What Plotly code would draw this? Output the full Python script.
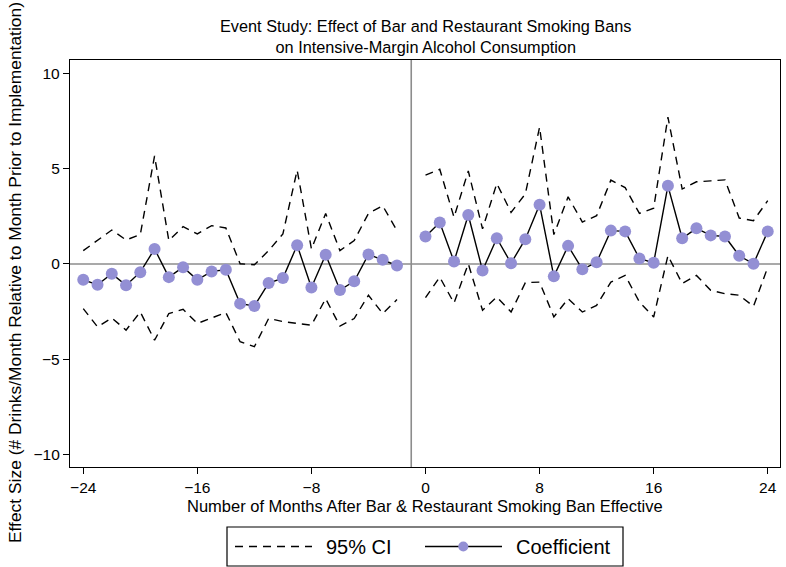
import plotly.graph_objects as go

# Event time (months relative to the ban); month -1 is the omitted reference period
months = list(range(-24, 25))

coef = [-0.83, -1.09, -0.51, -1.12, -0.43, 0.79, -0.69, -0.17, -0.83, -0.39, -0.30,
        -2.08, -2.20, -1.00, -0.74, 0.98, -1.23, 0.48, -1.37, -0.91, 0.50, 0.22, -0.08,
        None,
        1.44, 2.18, 0.13, 2.57, -0.34, 1.35, 0.04, 1.30, 3.11, -0.65, 0.95, -0.28,
        0.09, 1.75, 1.71, 0.29, 0.06, 4.10, 1.35, 1.87, 1.50, 1.44, 0.43, 0.01, 1.71]

ci_upper = [0.70, 1.23, 1.78, 1.26, 1.54, 5.67, 1.23, 1.96, 1.58, 2.01, 1.89,
            0.01, -0.04, 0.70, 1.58, 4.92, 0.79, 2.65, 0.70, 1.23, 2.65, 3.05, 1.75,
            None,
            4.66, 4.97, 2.45, 4.88, 1.84, 4.22, 2.71, 3.67, 7.18, 1.54, 3.52, 2.20,
            2.53, 4.40, 4.01, 2.65, 2.93, 7.70, 3.93, 4.31, 4.36, 4.41, 2.41, 2.27, 3.32]

ci_lower = [-2.34, -3.30, -2.83, -3.47, -2.52, -4.00, -2.60, -2.38, -3.12, -2.83, -2.55,
            -4.08, -4.34, -2.86, -3.02, -3.12, -3.21, -1.82, -3.26, -2.86, -1.64, -2.60, -1.87,
            None,
            -1.77, -0.69, -2.05, 0.01, -2.43, -1.73, -2.52, -0.98, -0.95, -2.78, -1.82, -2.52,
            -2.17, -0.95, -0.60, -1.99, -2.78, 0.44, -1.03, -0.60, -1.38, -1.56, -1.64, -2.22, -0.17]

x_ticks = [-24, -16, -8, 0, 8, 16, 24]
y_ticks = [-10, -5, 0, 5, 10]
ref_month = -1

MARKER_COLOR = "#938fd4"
GRID_GRAY = "#8c8c8c"
FONT = "Liberation Sans, Arial, sans-serif"

W, H = 786, 567
L, R, T, B = 70, 6, 60, 100
PW, PH = W - L - R, H - T - B


def px_x(p):
    return (p - L) / PW


def px_y(p):
    return (H - B - p) / PH


fig = go.Figure()

fig.add_trace(go.Scatter(x=months, y=ci_upper, mode="lines", name="95% CI",
                         line=dict(color="black", width=1.4, dash="8px,6px"),
                         connectgaps=False, showlegend=False))
fig.add_trace(go.Scatter(x=months, y=ci_lower, mode="lines", name="95% CI",
                         line=dict(color="black", width=1.4, dash="8px,6px"),
                         connectgaps=False, showlegend=False))
fig.add_trace(go.Scatter(x=months, y=coef, mode="lines+markers", name="Coefficient",
                         line=dict(color="black", width=1.4),
                         marker=dict(color=MARKER_COLOR, size=12),
                         connectgaps=False, showlegend=False))

shapes = [
    # zero line and reference-month line
    dict(type="line", xref="paper", yref="y", x0=0, x1=1, y0=0, y1=0,
         line=dict(color=GRID_GRAY, width=1.6), layer="below"),
    dict(type="line", xref="x", yref="paper", x0=ref_month, x1=ref_month, y0=0, y1=1,
         line=dict(color=GRID_GRAY, width=1.6), layer="below"),
    # legend box
    dict(type="rect", xref="paper", yref="paper",
         x0=px_x(227), x1=px_x(623), y0=px_y(527), y1=px_y(566),
         line=dict(color="black", width=1.2)),
    dict(type="line", xref="paper", yref="paper",
         x0=px_x(235), x1=px_x(312), y0=px_y(546.5), y1=px_y(546.5),
         line=dict(color="black", width=1.4, dash="8px,6px")),
    dict(type="line", xref="paper", yref="paper",
         x0=px_x(425), x1=px_x(502), y0=px_y(546.5), y1=px_y(546.5),
         line=dict(color="black", width=1.4)),
    dict(type="circle", xref="paper", yref="paper",
         x0=px_x(458.3), x1=px_x(468.3), y0=px_y(541.5), y1=px_y(551.5),
         fillcolor=MARKER_COLOR, line=dict(width=0)),
]

annotations = [
    dict(text="Event Study: Effect of Bar and Restaurant Smoking Bans<br>on Intensive-Margin Alcohol Consumption",
         xref="paper", yref="paper", x=0.5, y=px_y(36.5), xanchor="center", yanchor="middle",
         showarrow=False, font=dict(size=16.3, color="black", family=FONT)),
    dict(text="Number of Months After Bar &amp; Restaurant Smoking Ban Effective",
         xref="paper", yref="paper", x=0.5, y=px_y(506), xanchor="center", yanchor="middle",
         showarrow=False, font=dict(size=16.5, color="black", family=FONT)),
    dict(text="Effect Size (# Drinks/Month Relative to Month Prior to Implementation)",
         xref="paper", yref="paper", x=px_x(15), y=px_y(273), xanchor="center", yanchor="middle",
         textangle=-90, showarrow=False, font=dict(size=17.4, color="black", family=FONT)),
    dict(text="95% CI", xref="paper", yref="paper", x=px_x(324), y=px_y(546.5),
         xanchor="left", yanchor="middle", showarrow=False,
         font=dict(size=20, color="black", family=FONT)),
    dict(text="Coefficient", xref="paper", yref="paper", x=px_x(514), y=px_y(546.5),
         xanchor="left", yanchor="middle", showarrow=False,
         font=dict(size=20, color="black", family=FONT)),
]

fig.update_layout(
    width=W, height=H,
    margin=dict(l=L, r=R, t=T, b=B),
    paper_bgcolor="white", plot_bgcolor="white",
    font=dict(family=FONT, color="black", size=15),
    showlegend=False,
    shapes=shapes,
    annotations=annotations,
    xaxis=dict(range=[-24.93, 24.86], tickvals=x_ticks, ticks="outside", ticklen=6,
               tickwidth=1.2, tickcolor="black", showgrid=False, zeroline=False,
               showline=True, linecolor="black", linewidth=1.3, mirror=True,
               tickfont=dict(size=15.5)),
    yaxis=dict(range=[-10.65, 10.7], tickvals=y_ticks, ticks="outside", ticklen=6,
               tickwidth=1.2, tickcolor="black", showgrid=False, zeroline=False,
               showline=True, linecolor="black", linewidth=1.3, mirror=True,
               tickfont=dict(size=15.5)),
)

fig.write_html("out.html")
